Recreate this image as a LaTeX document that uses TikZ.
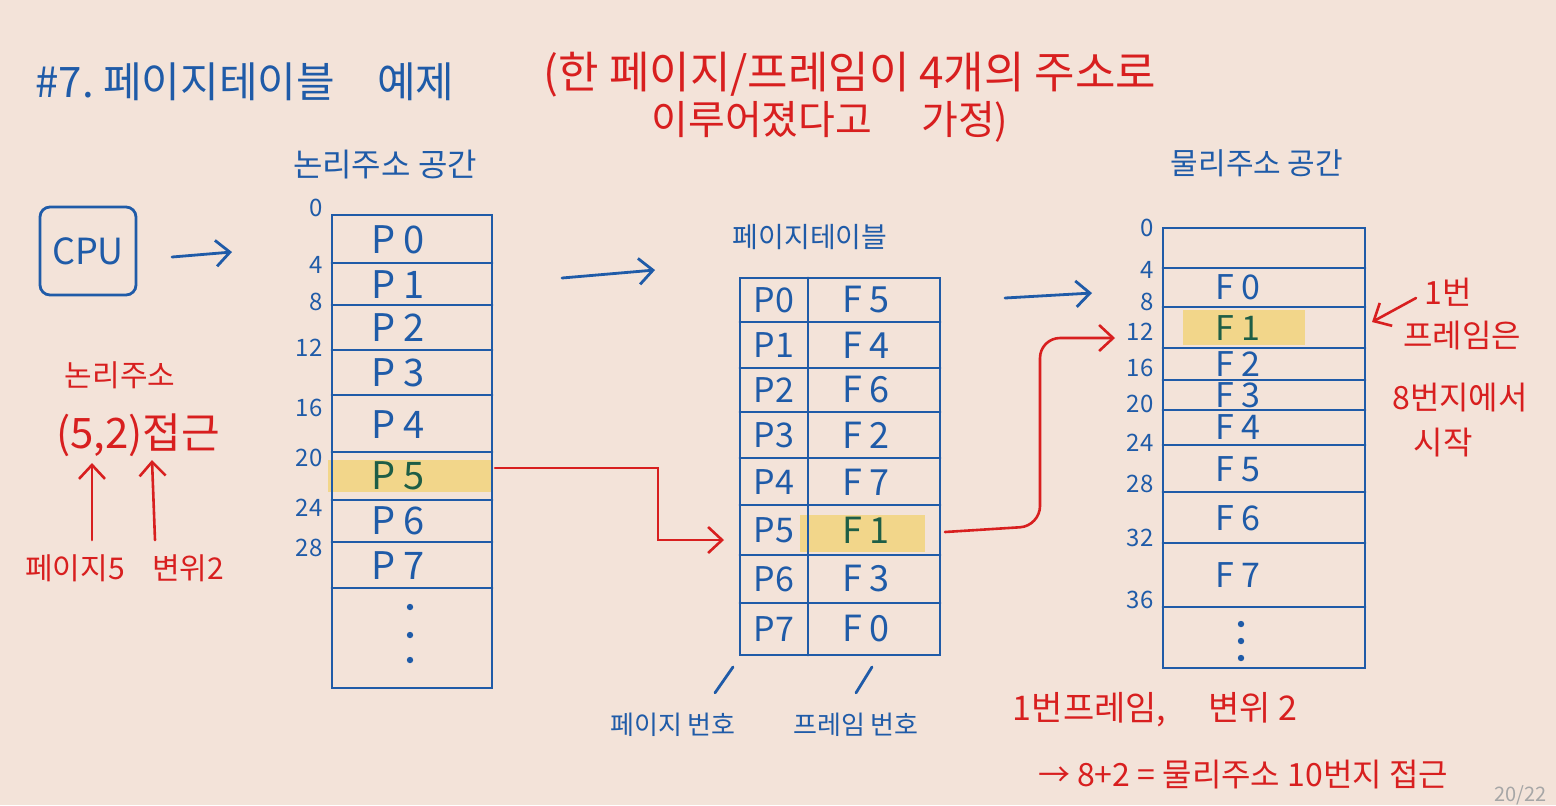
\documentclass[tikz,border=0pt]{standalone}
\usepackage{fontspec}
\setmainfont{Noto Sans CJK KR}
\usepackage{tikz}
\usetikzlibrary{positioning, arrows.meta}
\definecolor{paper}{HTML}{F3E3D9}
\definecolor{pen}{HTML}{1F5BA8}
\definecolor{ink}{HTML}{D81F1F}
\definecolor{marker}{HTML}{F2D68A}
\definecolor{leaf}{HTML}{1E5E46}
\tikzset{
	>={Straight Barb[length=7pt,width=13pt]}, % open barbed heads like the pen strokes
	penline/.style={pen, line width=1.4pt, line cap=round}, % table borders and rows
	bluearrow/.style={->, pen, line width=1.4pt, line cap=round},
	redarrow/.style={->, ink, line width=1.3pt, line cap=round},
	bluetext/.style={text=pen, inner sep=1pt},
	redtext/.style={text=ink, inner sep=1pt},
	cell/.style={text=pen, inner sep=0pt, font=\fontsize{17}{19}\selectfont},
	addr/.style={text=pen, inner sep=1pt, font=\fontsize{12}{14}\selectfont},
	dot/.style={pen, radius=1.6pt},
}
\begin{document}
\begin{tikzpicture}[x=0.5pt,y=-0.5pt]
	\useasboundingbox[fill=paper] (0,0) rectangle (1556,805);

	% marker highlights
	\fill[marker] (328,460) rectangle (492,492);
	\fill[marker] (800,515) rectangle (925,552);
	\fill[marker] (1183,310) rectangle (1305,345);

	% headings
	\node[bluetext, font=\fontsize{21}{25}\selectfont] (title) at (245,82) {\#7.\ 페이지테이블\quad 예제};
	\node[redtext, font=\fontsize{22}{26}\selectfont] (note1) at (850,75) {(한 페이지/프레임이 4개의 주소로};
	\node[redtext, font=\fontsize{20}{24}\selectfont] (note2) at (830,122) {이루어졌다고\quad\ 가정)};

	% cpu
	\node[draw, pen, text=pen, line width=1.4pt, rounded corners=5pt, minimum width=48pt, minimum height=44pt, font=\fontsize{18}{20}\selectfont] (cpu) at (88,251) {CPU};
	\coordinate (cpuout) at (172,257);
	\coordinate (cpuend) at (232,252);
	\draw[bluearrow] (cpuout) -- (cpuend);

	% logical address
	\node[redtext, font=\fontsize{15}{18}\selectfont] (lognote) at (120,375) {논리주소};
	\node[redtext, font=\fontsize{21}{25}\selectfont] (access) at (138,435) {(5,2)접근};
	\node[redtext, font=\fontsize{15}{18}\selectfont] (pg5) at (75,568) {페이지5};
	\node[redtext, font=\fontsize{15}{18}\selectfont] (off2) at (188,568) {변위2};
	\coordinate (acc5) at (92,463);
	\coordinate (acc2) at (152,460);
	\draw[redarrow] (pg5.north -| acc5) ++(0,-12) -- (acc5);
	\draw[redarrow] (off2.north -| acc2) ++(3,-12) -- (acc2);

	% logical address space
	\node[bluetext, font=\fontsize{16}{19}\selectfont] (loglabel) at (385,165) {논리주소 공간};
	\draw[penline] (332,215) rectangle (492,688);
	\foreach \yy in {263,305,350,395,452,500,542,588}
		\draw[penline] (332,\yy) -- (492,\yy);
	\foreach \n/\yy/\c in {0/240/pen,1/285/pen,2/328/pen,3/373/pen,4/425/pen,5/476/leaf,6/521/pen,7/566/pen}
		\node[cell, text=\c, font=\fontsize{19}{21}\selectfont] (lp\n) at (398,\yy) {P \n};
	\foreach \a/\yy in {0/208,4/265,8/302,12/348,16/408,20/458,24/508,28/548}
		\node[addr, anchor=east] (la\a) at (325,\yy) {\a};
	\foreach \yy in {607,635,660}
		\fill[dot] (410,\yy) circle;
	\coordinate (lp5e) at (495,468);

	\coordinate (logout) at (562,278);
	\coordinate (logend) at (655,270);
	\draw[bluearrow] (logout) -- (logend);

	% page table
	\node[bluetext, font=\fontsize{14}{17}\selectfont] (ptlabel) at (810,237) {페이지테이블};
	\draw[penline] (740,278) rectangle (940,655);
	\draw[penline] (808,278) -- (808,655);
	\foreach \yy in {322,368,412,458,505,555,603}
		\draw[penline] (740,\yy) -- (940,\yy);
	\foreach \n/\f/\yy/\c in {0/5/300/pen,1/4/345/pen,2/6/390/pen,3/2/435/pen,4/7/482/pen,5/1/530/leaf,6/3/579/pen,7/0/629/pen}
	{
		\node[cell] (tp\n) at (774,\yy) {P\n};
		\node[cell, text=\c, font=\fontsize{18}{20}\selectfont] (tf\n) at (866,\yy) {F \f};
	}
	\coordinate (tp5w) at (724,540);
	\coordinate (tf1e) at (945,532);

	\node[bluetext, font=\fontsize{13}{16}\selectfont] (pnum) at (673,725) {페이지 번호};
	\node[bluetext, font=\fontsize{13}{16}\selectfont] (fnum) at (856,725) {프레임 번호};
	\coordinate (pcol) at (733,667);
	\coordinate (fcol) at (872,667);
	\draw[penline] ([xshift=21pt,yshift=9pt]pnum.north) -- (pcol);
	\draw[penline] ([yshift=9pt]fnum.north) -- (fcol);

	\coordinate (ptout) at (1005,298);
	\coordinate (ptend) at (1092,293);
	\draw[bluearrow] (ptout) -- (ptend);

	% physical address space
	\node[bluetext, font=\fontsize{15}{18}\selectfont] (physlabel) at (1257,163) {물리주소 공간};
	\draw[penline] (1163,228) rectangle (1365,668);
	\foreach \yy in {268,307,348,380,410,445,492,543,607}
		\draw[penline] (1163,\yy) -- (1365,\yy);
	\foreach \f/\yy/\c in {0/287/pen,1/328/leaf,2/364/pen,3/395/pen,4/427/pen,5/469/pen,6/518/pen,7/575/pen}
		\node[cell, text=\c] (pf\f) at (1238,\yy) {F \f};
	\foreach \a/\yy in {0/228,4/270,8/302,12/332,16/368,20/404,24/443,28/484,32/538,36/600}
		\node[addr, anchor=east] (pa\a) at (1156,\yy) {\a};
	\foreach \yy in {624,641,658}
		\fill[dot] (1241,\yy) circle;
	\coordinate (pf1w) at (1115,338);
	\coordinate (pf1e) at (1372,322);

	% red flow
	\draw[redarrow] (lp5e) -- ++(163,0) |- (tp5w);
	\draw[redarrow, rounded corners=10pt] (tf1e) -- ++(95,-6) |- (pf1w);

	% notes on the right
	\node[redtext, font=\fontsize{16}{19}\selectfont] (n1) at (1448,292) {1번};
	\node[redtext, font=\fontsize{16}{19}\selectfont] (n2) at (1462,336) {프레임은};
	\node[redtext, font=\fontsize{16}{19}\selectfont] (n3) at (1460,398) {8번지에서};
	\node[redtext, font=\fontsize{16}{19}\selectfont] (n4) at (1443,443) {시작};
	\draw[redarrow] (n1.west) ++(-6,6) -- (pf1e);

	\node[redtext, font=\fontsize{17}{20}\selectfont] (calc1) at (1155,710) {1번프레임,\quad\ 변위 2};
	\node[redtext, font=\fontsize{16}{19}\selectfont] (calc2) at (1243,775) {→ 8+2 = 물리주소 10번지 접근};

	\node[text=gray!70, anchor=base east, font=\fontsize{10}{12}\selectfont] (pageno) at (1554,801) {20/22};
\end{tikzpicture}
\end{document}
